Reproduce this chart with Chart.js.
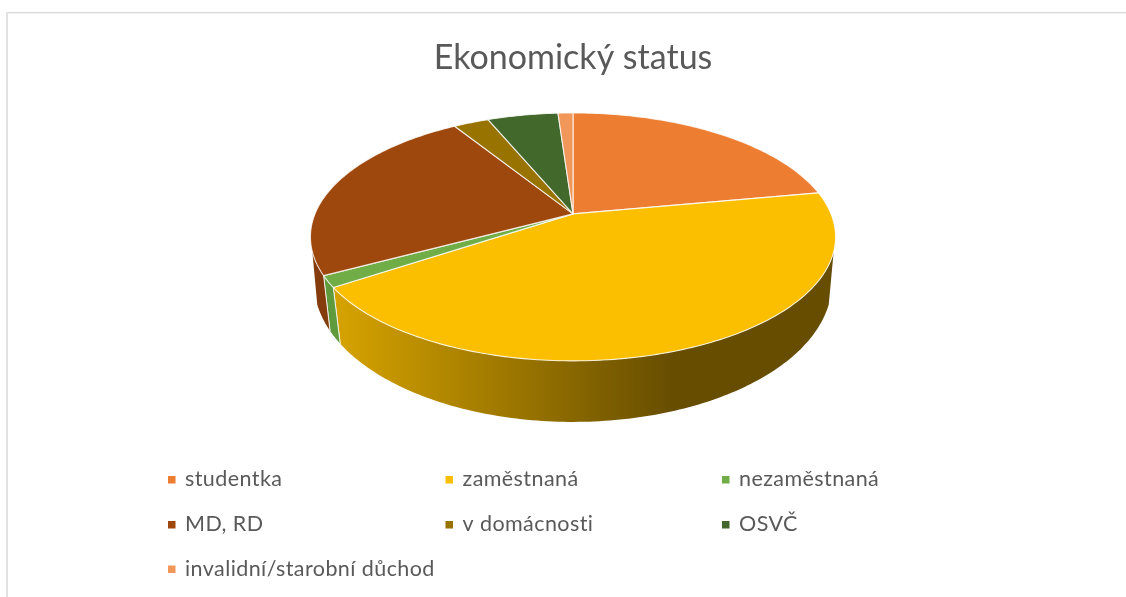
<!DOCTYPE html>
<html lang="cs"><head><meta charset="utf-8">
<style>html,body{margin:0;padding:0;background:#fff}canvas{display:block}</style>
<script src="https://cdn.jsdelivr.net/npm/chart.js@4/dist/chart.umd.min.js"></script>
</head><body>
<canvas id="c" width="1126" height="597"></canvas>
<script>
const categories = ['studentka','zaměstnaná','nezaměstnaná','MD, RD','v domácnosti','OSVČ','invalidní/starobní důchod'];
const shares = [22.1, 43.6, 1.5, 23.9, 2.6, 5.2, 1.1];
const topColors = ['#ED7D31','#FBBF00','#70AD47','#9E480E','#997300','#43682B','#F1975A'];
const wallColors = ['#A5571F','#8a6800','#5F9A3C','#843C0C','#6b5000','#2f491e','#b06a3e'];
const chartTitle = 'Ekonomický status';

const TOP = {A:258, B:119.7, dy:0, k:0.1855};
const BOT = {A:256, B:136, dy:48, k:0.15};
const WALL_FROM = 107.4*Math.PI/180, WALL_TO = 252.6*Math.PI/180;
function rim(arc, g, t){
  const s=Math.sin(t), c=Math.cos(t), w=1+g.k*c;
  return [arc.x+g.A*s/w, arc.y+g.dy-g.B*c/w];
}
function angles(a,b){
  const out=[]; const n=Math.max(2,Math.ceil((b-a)/(Math.PI/180)));
  for(let i=0;i<=n;i++) out.push(a+(b-a)*i/n);
  return out;
}
const pie3d = {
  id:'pie3d',
  beforeDatasetDraw(chart,args){
    const ctx=chart.ctx, meta=args.meta;
    ctx.save();
    // frame of the embedded picture
    ctx.fillStyle='#d9d9d9'; ctx.fillRect(6,12,1120,1.4);
    ctx.fillStyle='#e2e2e2'; ctx.fillRect(6,12,2,585);
    // walls
    const grad=ctx.createLinearGradient(335,0,675,0);
    grad.addColorStop(0,'#d6a300'); grad.addColorStop(1,'#664d00');
    meta.data.forEach((arc,i)=>{
      const st=arc.startAngle+Math.PI/2, en=arc.endAngle+Math.PI/2;
      const a=Math.max(st,WALL_FROM), b=Math.min(en,WALL_TO);
      if(b<=a) return;
      const ts=angles(a,b);
      ctx.beginPath();
      ts.forEach((t,j)=>{const p=rim(arc,TOP,t); j?ctx.lineTo(p[0],p[1]):ctx.moveTo(p[0],p[1]);});
      ts.slice().reverse().forEach(t=>{const p=rim(arc,BOT,t); ctx.lineTo(p[0],p[1]);});
      ctx.closePath();
      ctx.fillStyle = i===1 ? grad : wallColors[i];
      ctx.fill();
      ctx.strokeStyle='rgba(255,255,255,.8)'; ctx.lineWidth=1;
      [a,b].forEach(t=>{
        if(t===WALL_FROM||t===WALL_TO) return;
        const p=rim(arc,TOP,t), q=rim(arc,BOT,t);
        ctx.beginPath(); ctx.moveTo(p[0],p[1]); ctx.lineTo(q[0],q[1]); ctx.stroke();
      });
    });
    // top faces
    meta.data.forEach((arc,i)=>{
      const st=arc.startAngle+Math.PI/2, en=arc.endAngle+Math.PI/2;
      ctx.beginPath(); ctx.moveTo(arc.x,arc.y);
      angles(st,en).forEach(t=>{const p=rim(arc,TOP,t); ctx.lineTo(p[0],p[1]);});
      ctx.closePath();
      ctx.fillStyle=topColors[i]; ctx.fill();
      ctx.strokeStyle='rgba(255,255,255,.8)'; ctx.lineWidth=1.1; ctx.lineJoin='round'; ctx.stroke();
    });
    ctx.restore();
    return false;
  },
  afterDraw(chart){
    const ctx=chart.ctx;
    const colX=[168,445.5,722], rowY=[479.5,524.5,569];
    ctx.save();
    ctx.font='21.5px Lato, sans-serif';
    ctx.textBaseline='middle'; ctx.textAlign='left';
    ctx.letterSpacing='0.42px';
    chart.data.labels.forEach((lab,i)=>{
      const x=colX[i%3], y=rowY[Math.floor(i/3)];
      ctx.fillStyle=topColors[i]; ctx.fillRect(x,y-3.5,7.5,7.5);
      ctx.fillStyle='#595959'; ctx.fillText(lab,x+17,y);
    });
    ctx.restore();
  }
};
new Chart(document.getElementById('c'),{
  type:'pie',
  data:{labels:categories,datasets:[{data:shares,backgroundColor:topColors,borderColor:'#fff',borderWidth:1}]},
  plugins:[pie3d],
  options:{
    responsive:false,animation:false,
    layout:{padding:{left:20,right:0,top:0,bottom:269}},
    plugins:{
      legend:{display:false},tooltip:{enabled:false},
      title:{display:true,text:chartTitle,color:'#595959',font:{family:'Lato, sans-serif',size:34,weight:'normal'},padding:{top:38,bottom:21}}
    }
  }
});
</script>
</body></html>
